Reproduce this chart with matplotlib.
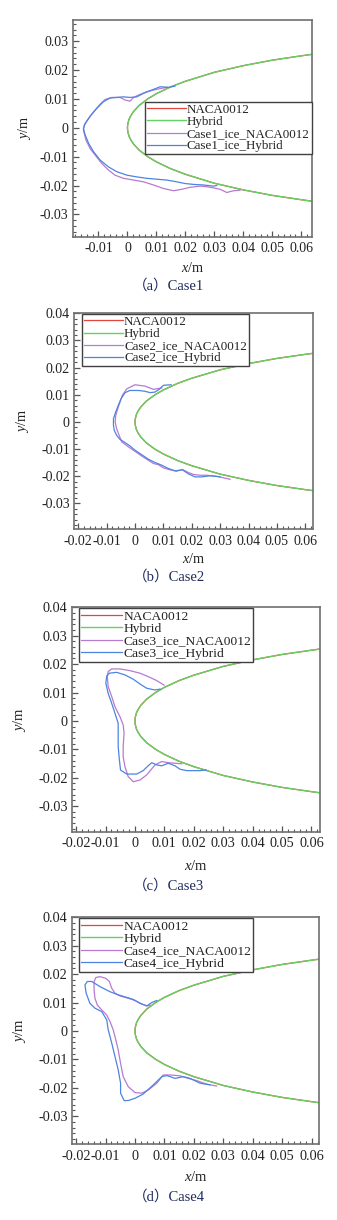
import matplotlib
matplotlib.use('Agg')
import matplotlib.pyplot as plt
from matplotlib.ticker import MultipleLocator

plt.rcParams['font.family'] = ['Liberation Serif', 'Noto Sans CJK SC']
plt.rcParams['mathtext.fontset'] = 'custom'
plt.rcParams['mathtext.it'] = 'Liberation Serif:italic'
plt.rcParams['mathtext.rm'] = 'Liberation Serif'
plt.rcParams['axes.unicode_minus'] = False

# clean profiles (upper TE -> nose -> lower TE)
naca_x = [0.065, 0.06, 0.05, 0.04, 0.03, 0.02, 0.015, 0.01, 0.007, 0.004, 0.002, 0.001, 0.0005, 0.0001, 0.0,
          0.0001, 0.0005, 0.001, 0.002, 0.004, 0.007, 0.01, 0.015, 0.02, 0.03, 0.04, 0.05, 0.06, 0.065]
naca_y = [0.0256, 0.0249, 0.0234, 0.0215, 0.0192, 0.0161, 0.0142, 0.0118, 0.0100, 0.0077, 0.0055, 0.0039, 0.0028, 0.00125, 0.0,
          -0.00125, -0.0028, -0.0039, -0.0055, -0.0077, -0.0100, -0.0118, -0.0142, -0.0161, -0.0192, -0.0215, -0.0234, -0.0249, -0.0256]
# hybrid profile sits on top of the NACA0012 one in every panel
hybrid_x = list(naca_x)
hybrid_y = list(naca_y)

# Case1 ice shapes
case1_naca_x = [0.0136, 0.0101, 0.0067, 0.0038, 0.0021, 0.0009, -0.0008, -0.0025, -0.0054, -0.0077, -0.0094, -0.0117,
                -0.0134, -0.0149, -0.0152, -0.0143, -0.0129, -0.0111, -0.0089, -0.0066, -0.0043, -0.0014, 0.0021, 0.0055,
                0.0090, 0.0124, 0.0159, 0.0187, 0.0216, 0.0251, 0.0274, 0.0297, 0.0320, 0.0343, 0.0366, 0.0389]
case1_naca_y = [0.0140, 0.0133, 0.0125, 0.0113, 0.0105, 0.0092, 0.0096, 0.0105, 0.0105, 0.0098, 0.0082, 0.0055,
                0.0032, 0.0009, -0.0008, -0.0043, -0.0072, -0.0095, -0.0123, -0.0146, -0.0164, -0.0175, -0.0181, -0.0187,
                -0.0198, -0.0210, -0.0218, -0.0213, -0.0206, -0.0202, -0.0204, -0.0208, -0.0213, -0.0224, -0.0218, -0.0216]
case1_hyb_x = [0.0164, 0.0141, 0.0113, 0.0090, 0.0055, 0.0032, 0.0009, -0.0014, -0.0037, -0.0060, -0.0083, -0.0106,
               -0.0129, -0.0146, -0.0152, -0.0146, -0.0134, -0.0117, -0.0094, -0.0066, -0.0037, -0.0002, 0.0032, 0.0067,
               0.0101, 0.0136, 0.0170, 0.0199, 0.0228, 0.0262, 0.0297, 0.0308]
case1_hyb_y = [0.0144, 0.0140, 0.0142, 0.0133, 0.0119, 0.0107, 0.0105, 0.0107, 0.0105, 0.0103, 0.0090, 0.0067,
               0.0040, 0.0015, -0.0002, -0.0025, -0.0054, -0.0083, -0.0112, -0.0135, -0.0152, -0.0164, -0.0170, -0.0175,
               -0.0178, -0.0181, -0.0187, -0.0193, -0.0196, -0.0198, -0.0202, -0.0200]

# Case2 ice shapes
case2_naca_x = [0.0094, 0.0065, 0.0035, 0.0000, -0.0029, -0.0045, -0.0053, -0.0061, -0.0068, -0.0070, -0.0065, -0.0056,
                -0.0047, -0.0023, 0.0000, 0.0023, 0.0047, 0.0065, 0.0082, 0.0100, 0.0123, 0.0147, 0.0167, 0.0188,
                0.0205, 0.0229, 0.0252, 0.0288, 0.0335]
case2_naca_y = [0.0125, 0.0120, 0.0132, 0.0137, 0.0122, 0.0098, 0.0073, 0.0049, 0.0024, 0.0000, -0.0024, -0.0049,
                -0.0073, -0.0092, -0.0108, -0.0125, -0.0141, -0.0153, -0.0157, -0.0169, -0.0176, -0.0181, -0.0175, -0.0186,
                -0.0193, -0.0196, -0.0196, -0.0200, -0.0211]
case2_hyb_x = [0.0127, 0.0100, 0.0085, 0.0070, 0.0053, 0.0035, 0.0012, -0.0018, -0.0035, -0.0049, -0.0059, -0.0068,
               -0.0076, -0.0076, -0.0073, -0.0065, -0.0053, -0.0035, -0.0018, 0.0000, 0.0023, 0.0047, 0.0070, 0.0094,
               0.0117, 0.0141, 0.0167, 0.0188, 0.0211, 0.0235, 0.0264, 0.0300]
case2_hyb_y = [0.0137, 0.0135, 0.0120, 0.0110, 0.0108, 0.0113, 0.0116, 0.0116, 0.0108, 0.0086, 0.0061, 0.0037,
               0.0012, -0.0012, -0.0031, -0.0049, -0.0064, -0.0076, -0.0088, -0.0104, -0.0120, -0.0137, -0.0149, -0.0159,
               -0.0171, -0.0180, -0.0176, -0.0191, -0.0202, -0.0202, -0.0198, -0.0202]

# Case3 ice shapes
case3_naca_x = [0.0099, 0.0074, 0.0045, 0.0017, -0.0017, -0.0051, -0.0079, -0.0091, -0.0094, -0.0091, -0.0079, -0.0068,
                -0.0051, -0.0040, -0.0037, -0.0040, -0.0040, -0.0034, -0.0023, -0.0006, 0.0017, 0.0040, 0.0068, 0.0091,
                0.0113, 0.0136, 0.0159]
case3_naca_y = [0.0126, 0.0142, 0.0156, 0.0168, 0.0177, 0.0183, 0.0183, 0.0174, 0.0156, 0.0121, 0.0086, 0.0050,
                0.0015, -0.0014, -0.0043, -0.0090, -0.0126, -0.0161, -0.0196, -0.0214, -0.0208, -0.0190, -0.0155, -0.0143,
                -0.0147, -0.0149, -0.0151]
case3_hyb_x = [0.0085, 0.0068, 0.0040, 0.0017, -0.0006, -0.0034, -0.0062, -0.0087, -0.0096, -0.0099, -0.0091, -0.0079,
               -0.0068, -0.0057, -0.0057, -0.0057, -0.0053, -0.0049, -0.0028, 0.0006, 0.0028, 0.0045, 0.0057, 0.0074,
               0.0091, 0.0113, 0.0136, 0.0153, 0.0176, 0.0221, 0.0243]
case3_hyb_y = [0.0112, 0.0109, 0.0115, 0.0130, 0.0147, 0.0162, 0.0171, 0.0168, 0.0158, 0.0133, 0.0097, 0.0062,
               0.0027, -0.0008, -0.0043, -0.0090, -0.0137, -0.0173, -0.0187, -0.0187, -0.0175, -0.0158, -0.0147, -0.0155,
               -0.0158, -0.0149, -0.0158, -0.0170, -0.0175, -0.0175, -0.0173]

# Case4 ice shapes
case4_naca_x = [0.0051, 0.0040, 0.0023, 0.0000, -0.0023, -0.0051, -0.0068, -0.0079, -0.0087, -0.0099, -0.0119, -0.0133,
                -0.0139, -0.0139, -0.0136, -0.0128, -0.0113, -0.0096, -0.0085, -0.0074, -0.0065, -0.0057, -0.0049, -0.0040,
                -0.0023, 0.0000, 0.0023, 0.0045, 0.0074, 0.0096, 0.0119, 0.0153, 0.0181, 0.0210, 0.0243, 0.0277]
case4_naca_y = [0.0091, 0.0088, 0.0095, 0.0107, 0.0115, 0.0123, 0.0133, 0.0150, 0.0174, 0.0185, 0.0191, 0.0188,
                0.0174, 0.0144, 0.0115, 0.0091, 0.0074, 0.0056, 0.0033, 0.0004, -0.0032, -0.0067, -0.0114, -0.0161,
                -0.0196, -0.0217, -0.0219, -0.0208, -0.0184, -0.0155, -0.0155, -0.0158, -0.0167, -0.0175, -0.0187, -0.0194]
case4_hyb_x = [0.0074, 0.0057, 0.0040, 0.0017, -0.0006, -0.0028, -0.0057, -0.0085, -0.0119, -0.0147, -0.0162, -0.0170,
               -0.0166, -0.0153, -0.0136, -0.0113, -0.0096, -0.0091, -0.0079, -0.0068, -0.0057, -0.0049, -0.0049, -0.0037,
               -0.0023, 0.0000, 0.0028, 0.0062, 0.0091, 0.0108, 0.0136, 0.0164, 0.0187, 0.0221, 0.0255]
case4_hyb_y = [0.0107, 0.0100, 0.0088, 0.0097, 0.0111, 0.0118, 0.0127, 0.0138, 0.0156, 0.0174, 0.0174, 0.0162,
               0.0133, 0.0097, 0.0080, 0.0068, 0.0039, 0.0004, -0.0043, -0.0090, -0.0137, -0.0184, -0.0219, -0.0245,
               -0.0245, -0.0237, -0.0222, -0.0190, -0.0161, -0.0157, -0.0167, -0.0161, -0.0167, -0.0184, -0.0190]

ticks_x_a = [-0.01, 0, 0.01, 0.02, 0.03, 0.04, 0.05, 0.06]
ticks_x = [-0.02, -0.01, 0, 0.01, 0.02, 0.03, 0.04, 0.05, 0.06]
labels_x_a = ['-0.01', '0', '0.01', '0.02', '0.03', '0.04', '0.05', '0.06']
labels_x = ['-0.02', '-0.01', '0', '0.01', '0.02', '0.03', '0.04', '0.05', '0.06']
ticks_y_a = [-0.03, -0.02, -0.01, 0, 0.01, 0.02, 0.03]
labels_y_a = ['-0.03', '-0.02', '-0.01', '0', '0.01', '0.02', '0.03']
ticks_y = [-0.03, -0.02, -0.01, 0, 0.01, 0.02, 0.03, 0.04]
labels_y = ['-0.03', '-0.02', '-0.01', '0', '0.01', '0.02', '0.03', '0.04']

c_red = '#e2453c'
c_green = '#62d262'
c_purple = '#b87ad0'
c_blue = '#4d84e0'

W, H = 337, 1220
fig = plt.figure(figsize=(W / 100, H / 100), dpi=100)

# box in px: left, top, right, bottom; label positions in axes coords
panels = [
    dict(name='Case1', tag='a', box=(72.7, 20, 311.7, 236.7), xlim=(-0.0189, 0.0636), ylim=(-0.0377, 0.0373),
         xt=(ticks_x_a, labels_x_a), yt=(ticks_y_a, labels_y_a),
         ice=(case1_naca_x, case1_naca_y, case1_hyb_x, case1_hyb_y),
         leg_loc='upper right', leg_anchor=(1.0, 0.623), fs=9.4, cap_y=286, ylab_x=-0.166, xlab_y=-0.111),
    dict(name='Case2', tag='b', box=(74, 313.3, 313.3, 529.3), xlim=(-0.0215, 0.0628), ylim=(-0.0395, 0.0398),
         xt=(ticks_x, labels_x), yt=(ticks_y, labels_y),
         ice=(case2_naca_x, case2_naca_y, case2_hyb_x, case2_hyb_y),
         leg_loc='upper left', leg_anchor=(0.032, 0.997), fs=9.4, cap_y=577, ylab_x=-0.18, xlab_y=-0.105),
    dict(name='Case3', tag='c', box=(71.7, 607.3, 320, 831.7), xlim=(-0.0215, 0.0629), ylim=(-0.039, 0.04),
         xt=(ticks_x, labels_x), yt=(ticks_y, labels_y),
         ice=(case3_naca_x, case3_naca_y, case3_hyb_x, case3_hyb_y),
         leg_loc='upper left', leg_anchor=(0.031, 0.996), fs=9.7, cap_y=886, ylab_x=-0.176, xlab_y=-0.12),
    dict(name='Case4', tag='d', box=(71.7, 916.7, 319.3, 1144.3), xlim=(-0.0215, 0.0626), ylim=(-0.0399, 0.0402),
         xt=(ticks_x, labels_x), yt=(ticks_y, labels_y),
         ice=(case4_naca_x, case4_naca_y, case4_hyb_x, case4_hyb_y),
         leg_loc='upper left', leg_anchor=(0.031, 0.994), fs=9.7, cap_y=1197, ylab_x=-0.176, xlab_y=-0.112),
]

for p in panels:
    l, t, r, b = p['box']
    ax = fig.add_axes([l / W, 1 - b / H, (r - l) / W, (b - t) / H])
    ix_n, iy_n, ix_h, iy_h = p['ice']
    ax.plot(naca_x, naca_y, color=c_red, lw=0.9, label='NACA0012')
    ax.plot(hybrid_x, hybrid_y, color=c_green, lw=1.0, label='Hybrid')
    ax.plot(ix_n, iy_n, color=c_purple, lw=0.9, label=p['name'] + '_ice_NACA0012')
    ax.plot(ix_h, iy_h, color=c_blue, lw=0.9, label=p['name'] + '_ice_Hybrid')
    ax.set_xlim(*p['xlim'])
    ax.set_ylim(*p['ylim'])
    ax.set_xticks(p['xt'][0], p['xt'][1])
    ax.set_yticks(p['yt'][0], p['yt'][1])
    ax.xaxis.set_minor_locator(MultipleLocator(0.002))
    ax.yaxis.set_minor_locator(MultipleLocator(0.002))
    ax.tick_params(which='both', direction='in', top=False, right=False, color='#555555',
                   labelsize=p['fs'] + 0.6, labelcolor='#222222')
    ax.tick_params(which='major', length=4.5, width=0.9)
    ax.tick_params(which='minor', length=2.5, width=0.8)
    ax.tick_params(axis='y', pad=3)
    ax.tick_params(axis='x', pad=4)
    for s in ax.spines.values():
        s.set_color('#707070')
        s.set_linewidth(1.2)
    ax.set_xlabel(r'$x$/m', fontsize=p['fs'] + 0.8, color='#222222')
    ax.set_ylabel(r'$y$/m', fontsize=p['fs'] + 0.8, color='#222222')
    ax.xaxis.set_label_coords(0.5, p['xlab_y'])
    ax.yaxis.set_label_coords(p['ylab_x'], 0.5)
    leg = ax.legend(loc=p['leg_loc'], bbox_to_anchor=p['leg_anchor'], fontsize=p['fs'], frameon=True,
                    fancybox=False, framealpha=1, edgecolor='#404040', borderpad=0.15, borderaxespad=0,
                    handlelength=3.0, handletextpad=0.1, labelspacing=0.0)
    leg.get_frame().set_linewidth(1.0)
    for txt in leg.get_texts():
        txt.set_color('#222222')
    fig.text(0.5, 1 - p['cap_y'] / H, '（' + p['tag'] + '）' + p['name'], ha='center', va='center',
             fontsize=10.5, color='#1d2a5c')

fig.savefig('out.png', dpi=100)
